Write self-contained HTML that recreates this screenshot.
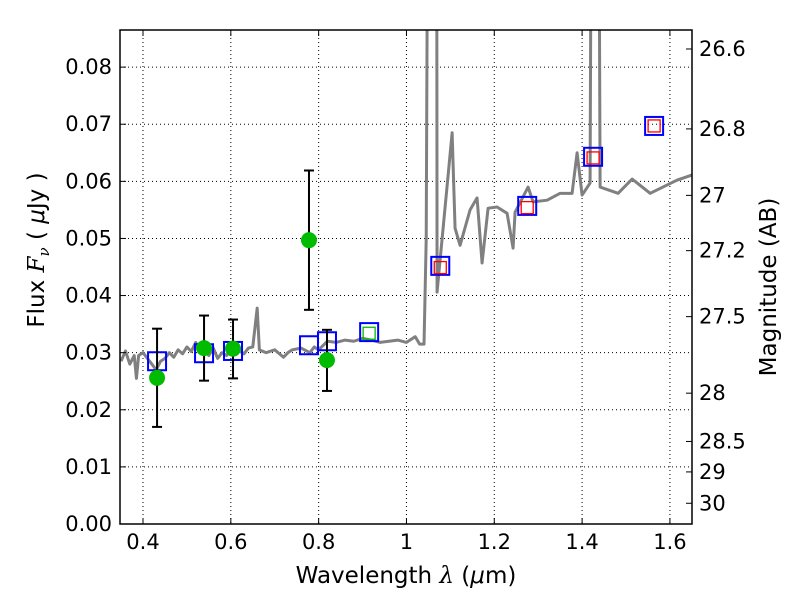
<!DOCTYPE html>
<html><head><meta charset="utf-8"><style>
body{margin:0;background:#fff}
svg{display:block;font-family:"DejaVu Sans","Liberation Sans",sans-serif}
</style></head><body>
<svg id="chart" width="800" height="600"></svg>
<script>
const specLam=[0.35,0.36,0.37,0.38,0.385,0.39,0.40,0.41,0.42,0.43,0.44,0.45,0.46,0.47,0.48,0.49,0.50,0.51,0.52,0.53,0.54,0.55,0.56,0.57,0.58,0.59,0.60,0.61,0.62,0.63,0.64,0.65,0.66,0.665,0.68,0.70,0.72,0.73,0.74,0.76,0.78,0.79,0.80,0.82,0.84,0.86,0.88,0.90,0.92,0.94,0.96,0.98,1.00,1.02,1.03,1.04,1.045,1.053,1.068,1.0697,1.104,1.1107,1.1221,1.1449,1.1608,1.1722,1.1859,1.2064,1.2292,1.2428,1.2474,1.277,1.2884,1.3203,1.3499,1.3772,1.3886,1.40,1.4182,1.425,1.434,1.441,1.482,1.514,1.555,1.616,1.65];
const specFlux=[0.0285,0.0303,0.0280,0.0295,0.0255,0.0295,0.0300,0.0290,0.0280,0.0270,0.0285,0.0290,0.0300,0.0292,0.0305,0.0298,0.0310,0.0302,0.0318,0.0300,0.0305,0.0295,0.0308,0.0290,0.0300,0.0295,0.0305,0.0300,0.0303,0.0298,0.0308,0.0310,0.0378,0.0305,0.0300,0.0305,0.0292,0.0300,0.0305,0.0308,0.0300,0.0310,0.0305,0.0320,0.0318,0.0322,0.0320,0.0325,0.0322,0.0318,0.0320,0.0322,0.0318,0.0328,0.0315,0.0315,0.0500,0.2,0.2,0.0406,0.0685,0.0518,0.0488,0.0550,0.0571,0.0457,0.0553,0.0555,0.0544,0.0483,0.0546,0.0590,0.0564,0.0567,0.0579,0.0579,0.0650,0.0576,0.0597,0.2,0.2,0.0590,0.0579,0.0604,0.0579,0.0602,0.0611];
const obsLam=[0.432,0.539,0.605,0.778,0.819];
const obsFlux=[0.0256,0.0308,0.0307,0.0497,0.0287];
const obsHi=[0.0342,0.0365,0.0358,0.0619,0.0340];
const obsLo=[0.0170,0.0251,0.0255,0.0375,0.0233];
const modLam=[0.432,0.539,0.605,0.778,0.819,0.915,1.077,1.275,1.425,1.564];
const modFlux=[0.0285,0.0299,0.0303,0.0313,0.0320,0.0336,0.0452,0.0557,0.0643,0.0697];
const innerLam=[0.915,1.077,1.275,1.425,1.564];
const innerFlux=[0.0334,0.0449,0.0554,0.0641,0.0697];
const innerColor=['#00bb00','red','red','red','red'];
const xTicks=[0.4,0.6,0.8,1.0,1.2,1.4,1.6];
const xTickLabels=['0.4','0.6','0.8','1','1.2','1.4','1.6'];
const yTicks=[0,0.01,0.02,0.03,0.04,0.05,0.06,0.07,0.08];
const magTicks=[26.6,26.8,27,27.2,27.5,28,28.5,29,30];

const L=120,R=692,T=30,B=524;
const x0=0.3476,x1=1.6503,y0=0,y1=0.0865;
const sx=v=>L+(v-x0)/(x1-x0)*(R-L);
const sy=v=>B-(v-y0)/(y1-y0)*(B-T);
const svg=document.getElementById('chart');
const NS='http://www.w3.org/2000/svg';
function mk(tag,attrs,parent){const e=document.createElementNS(NS,tag);for(const k in attrs)e.setAttribute(k,attrs[k]);(parent||svg).appendChild(e);return e;}

const defs=mk('defs',{});
const cp=mk('clipPath',{id:'clip'},defs);mk('rect',{x:L,y:T,width:R-L,height:B-T},cp);

const grid=mk('g',{});


xTicks.forEach(v=>mk('line',{x1:sx(v),x2:sx(v),y1:T,y2:B,stroke:'#000','stroke-width':1,'stroke-dasharray':'1,3'},grid));
yTicks.forEach(v=>mk('line',{x1:L,x2:R,y1:sy(v),y2:sy(v),stroke:'#000','stroke-width':1,'stroke-dasharray':'1,3'},grid));

const plot=mk('g',{'clip-path':'url(#clip)'});
const spec=mk('polyline',{points:specLam.map((l,i)=>sx(l)+','+sy(specFlux[i])).join(' '),fill:'none',stroke:'#808080','stroke-width':3,'stroke-linejoin':'round'},plot);



modLam.forEach((l,i)=>{const s=18;const r=mk('rect',{x:sx(l)-s/2,y:sy(modFlux[i])-s/2,width:s,height:s,fill:'none',stroke:'blue','stroke-width':2},plot);

});
innerLam.forEach((l,i)=>{const s=12;const r=mk('rect',{x:sx(l)-s/2,y:sy(innerFlux[i])-s/2,width:s,height:s,fill:'none',stroke:innerColor[i],'stroke-width':1.3},plot);

});
obsLam.forEach((l,i)=>{const g=mk('g',{},plot);


const x=sx(l);mk('line',{x1:x,x2:x,y1:sy(obsLo[i]),y2:sy(obsHi[i]),stroke:'#000','stroke-width':2},g);
[obsLo[i],obsHi[i]].forEach(v=>mk('line',{x1:x-5,x2:x+5,y1:sy(v),y2:sy(v),stroke:'#000','stroke-width':2},g));
mk('circle',{cx:x,cy:sy(obsFlux[i]),r:8,fill:'#00bb00'},g);});

const frame=mk('rect',{x:L,y:T,width:R-L,height:B-T,fill:'none',stroke:'#000','stroke-width':1.5});



xTicks.forEach((v,i)=>{mk('line',{x1:sx(v),x2:sx(v),y1:B,y2:B-6,stroke:'#000'});mk('line',{x1:sx(v),x2:sx(v),y1:T,y2:T+6,stroke:'#000'});
const t=mk('text',{x:sx(v),y:B+25,'font-size':21,'text-anchor':'middle'});t.textContent=xTickLabels[i];

});
yTicks.forEach(v=>{mk('line',{x1:L,x2:L+6,y1:sy(v),y2:sy(v),stroke:'#000'});
const t=mk('text',{x:L-8,y:sy(v)+7,'font-size':21,'text-anchor':'end'});t.textContent=v.toFixed(2);

});
magTicks.forEach(m=>{const f=Math.pow(10,(23.9-m)/2.5);const y=sy(f);mk('line',{x1:R,x2:R-6,y1:y,y2:y,stroke:'#000'});
const t=mk('text',{x:R+7,y:y+7,'font-size':21});t.textContent=String(m);

});
</script>
<svg width="800" height="600" style="position:absolute;left:0;top:0">
<text x="406" y="583" font-size="23" text-anchor="middle" font-family="DejaVu Sans,sans-serif">Wavelength  <tspan font-style="italic" font-family="DejaVu Serif,serif">λ</tspan> (<tspan font-style="italic">μ</tspan>m)</text>
<text transform="translate(44,250) rotate(-90)" font-size="23" text-anchor="middle" font-family="DejaVu Sans,sans-serif">Flux  <tspan font-style="italic" font-family="DejaVu Serif,serif">F<tspan font-size="15" dy="5">ν</tspan></tspan><tspan dy="-5">  (  </tspan><tspan font-style="italic">μ</tspan>Jy )</text>
<text transform="translate(776,287) rotate(-90)" font-size="23" text-anchor="middle" font-family="DejaVu Sans,sans-serif">Magnitude (AB)</text>
</svg>
</body></html>
